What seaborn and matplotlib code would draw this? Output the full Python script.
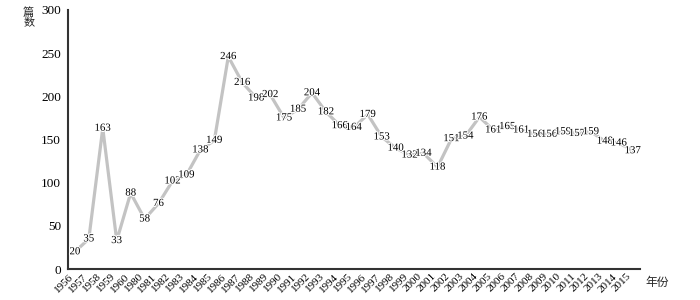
import pandas as pd
import matplotlib.pyplot as plt
import matplotlib.patheffects as pe
import seaborn as sns

years = ["1956", "1957", "1958", "1959", "1960", "1980", "1981", "1982", "1983", "1984",
         "1985", "1986", "1987", "1988", "1989", "1990", "1991", "1992", "1993", "1994",
         "1995", "1996", "1997", "1998", "1999", "2000", "2001", "2002", "2003", "2004",
         "2005", "2006", "2007", "2008", "2009", "2010", "2011", "2012", "2013", "2014", "2015"]
counts = [20, 35, 163, 33, 88, 58, 76, 102, 109, 138,
          149, 246, 216, 198, 202, 175, 185, 204, 182, 166,
          164, 179, 153, 140, 132, 134, 118, 151, 154, 176,
          161, 165, 161, 156, 156, 159, 157, 159, 148, 146, 137]
yticks = [0, 50, 100, 150, 200, 250, 300]

sns.set_style("white")
plt.rcParams['font.family'] = ['Liberation Serif', 'Noto Sans CJK SC']

df = pd.DataFrame({"pos": range(len(years)), "count": counts})

fig = plt.figure(figsize=(7, 3), dpi=100)
ax = fig.add_axes([0.097, 0.103, 0.817, 0.864])
sns.lineplot(data=df, x="pos", y="count", color="#c3c3c3", linewidth=2.3, ax=ax, zorder=2)

# thin white halo round the numbers hides the line under them
halo = [pe.withStroke(linewidth=1.5, foreground="white")]
for x, y in zip(df["pos"], df["count"]):
    ax.text(x, y, str(y), ha="center", va="center", fontsize=7.8, color="black",
            path_effects=halo, zorder=4)

ax.set_xlim(-0.5, len(years) - 0.5)
ax.set_ylim(0, 300)
ax.set_yticks(yticks)
ax.set_xticks(range(len(years)))
ax.set_xticklabels(years, rotation=45, ha="right", fontsize=8, color="black")
ax.tick_params(axis="y", labelsize=9.5, length=0, pad=5, labelcolor="black")
ax.tick_params(axis="x", length=0, pad=2)
ax.set_xlabel("")
ax.set_ylabel("")
for s in ["top", "right"]:
    ax.spines[s].set_visible(False)
for s in ["left", "bottom"]:
    ax.spines[s].set_color("#333333")
    ax.spines[s].set_linewidth(1.5)

fig.text(0.041, 0.977, "篇\n数", ha="center", va="top", fontsize=8,
         family=["Noto Sans CJK SC"], linespacing=1.0)
fig.text(0.939, 0.057, "年份", ha="center", va="center", fontsize=8.5,
         family=["Noto Sans CJK SC"])

fig.savefig("out.png", dpi=100)
